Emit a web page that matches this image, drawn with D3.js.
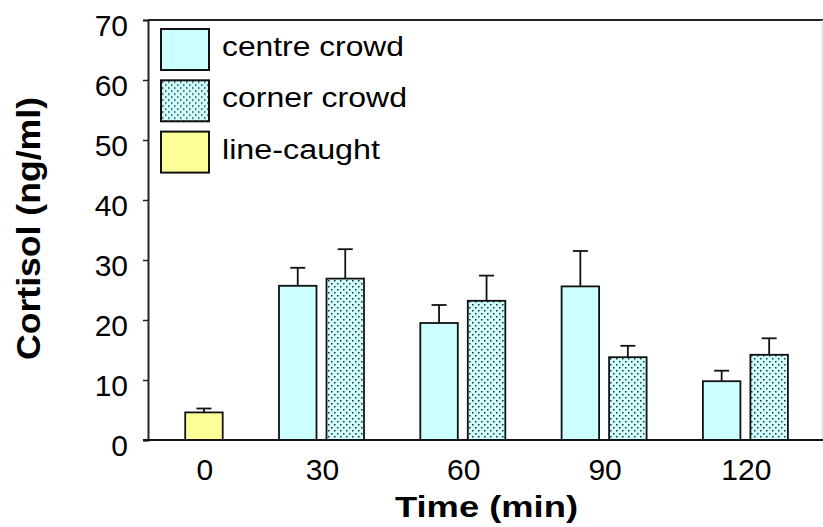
<!DOCTYPE html>
<html>
<head>
<meta charset="utf-8">
<script src="https://cdn.jsdelivr.net/npm/d3@7/dist/d3.min.js"></script>
<style>
  body { margin: 0; background: #fff; }
  svg { display: block; font-family: "Liberation Sans", Arial, sans-serif; }
</style>
</head>
<body>
<div id="chart"></div>
<script>
// values (ng/ml), null = no bar in that group
const times = ["0", "30", "60", "90", "120"];
const seriesNames = ["centre crowd", "corner crowd", "line-caught"];
const centreMean = [null, 25.7, 19.5, 25.6, 9.8];
const centreErr = [null, 3.0, 3.0, 5.9, 1.75];
const cornerMean = [null, 26.9, 23.2, 13.8, 14.2];
const cornerErr = [null, 4.9, 4.2, 1.9, 2.75];
const lineMean = [4.6, null, null, null, null];
const lineErr = [0.65, null, null, null, null];
const yTicks = [0, 10, 20, 30, 40, 50, 60, 70];

const W = 823, H = 527;
const plot = { left: 148, top: 20, right: 823, bottom: 440 };

const svg = d3.select('#chart').append('svg')
  .attr('width', W)
  .attr('height', H);

// dotted fill for the corner crowd bars
const defs = svg.append('defs');
const pat = defs.append('pattern')
  .attr('id', 'dots')
  .attr('patternUnits', 'userSpaceOnUse')
  .attr('width', 6)
  .attr('height', 6);
pat.append('rect').attr('width', 6).attr('height', 6).attr('fill', '#ccffff');
pat.append('rect').attr('x', 1).attr('y', 1).attr('width', 1.5).attr('height', 1.5).attr('fill', '#2a2a2a');
pat.append('rect').attr('x', 4).attr('y', 4).attr('width', 1.5).attr('height', 1.5).attr('fill', '#2a2a2a');

const fills = {
  'centre crowd': '#ccffff',
  'corner crowd': 'url(#dots)',
  'line-caught': '#ffff99'
};
// line-caught bar sits in the second slot of its group
const slotOf = {
  'centre crowd': 'centre crowd',
  'corner crowd': 'corner crowd',
  'line-caught': 'corner crowd'
};

const y = d3.scaleLinear().domain([0, 70]).range([plot.bottom, plot.top]);

const step = 141.3;
const firstCenter = 180.2;
const x0 = d3.scaleBand()
  .domain(times)
  .range([firstCenter - step / 2, firstCenter - step / 2 + step * times.length])
  .padding(0);
const bw = x0.bandwidth();
const x1 = d3.scaleBand()
  .domain(['centre crowd', 'corner crowd'])
  .range([bw / 2 - 42.5, bw / 2 + 42.5])
  .paddingInner(10 / 47.5)
  .paddingOuter(0);

const bars = [];
times.forEach((t, i) => {
  [[seriesNames[0], centreMean, centreErr],
   [seriesNames[1], cornerMean, cornerErr],
   [seriesNames[2], lineMean, lineErr]].forEach(([name, m, e]) => {
    if (m[i] != null) bars.push({ time: t, series: name, value: m[i], err: e[i] });
  });
});

// frame lines
svg.append('line')
  .attr('x1', plot.left).attr('x2', plot.right)
  .attr('y1', plot.top).attr('y2', plot.top)
  .attr('stroke', '#222').attr('stroke-width', 2);
svg.append('line')
  .attr('x1', 822).attr('x2', 822)
  .attr('y1', plot.top).attr('y2', plot.bottom)
  .attr('stroke', '#d8d8d8').attr('stroke-width', 1);

// error bars (drawn under the bars)
const eb = svg.append('g')
  .attr('stroke', '#111')
  .attr('stroke-width', 1.8);
bars.forEach(d => {
  const cx = x0(d.time) + x1(slotOf[d.series]) + x1.bandwidth() / 2;
  eb.append('line')
    .attr('x1', cx).attr('x2', cx)
    .attr('y1', y(d.value)).attr('y2', y(d.value + d.err));
  eb.append('line')
    .attr('x1', cx - 7.5).attr('x2', cx + 7.5)
    .attr('y1', y(d.value + d.err)).attr('y2', y(d.value + d.err));
});

svg.append('g')
  .selectAll('rect')
  .data(bars)
  .join('rect')
  .attr('x', d => x0(d.time) + x1(slotOf[d.series]))
  .attr('y', d => y(d.value))
  .attr('width', x1.bandwidth())
  .attr('height', d => y(0) - y(d.value))
  .attr('fill', d => fills[d.series])
  .attr('stroke', '#111')
  .attr('stroke-width', 1.8);

// y axis
const yAxis = svg.append('g')
  .attr('transform', `translate(${plot.left},0)`)
  .call(d3.axisLeft(y).tickValues(yTicks).tickSize(5).tickPadding(15).tickFormat(d3.format('d')));
yAxis.select('.domain').attr('stroke', '#222').attr('stroke-width', 2);
yAxis.selectAll('.tick line').attr('stroke', '#222').attr('stroke-width', 1.5);
yAxis.selectAll('.tick text')
  .attr('fill', '#000')
  .attr('font-size', 30)
  .attr('font-family', '"Liberation Sans", Arial, sans-serif')
  .attr('dy', '0.5em');

// x axis line
svg.append('line')
  .attr('x1', plot.left - 5).attr('x2', plot.right)
  .attr('y1', y(0)).attr('y2', y(0))
  .attr('stroke', '#111').attr('stroke-width', 2.2);

// x labels, centred under the bars of each group
svg.append('g')
  .selectAll('text')
  .data(times)
  .join('text')
  .attr('x', t => d3.mean(bars.filter(b => b.time === t),
    b => x0(b.time) + x1(slotOf[b.series]) + x1.bandwidth() / 2) + 1)
  .attr('y', 480)
  .attr('text-anchor', 'middle')
  .attr('font-size', 30)
  .text(t => t);

// axis titles
svg.append('text')
  .attr('x', 486.5)
  .attr('y', 516.5)
  .attr('text-anchor', 'middle')
  .attr('font-size', 30)
  .attr('font-weight', 'bold')
  .attr('textLength', 183)
  .attr('lengthAdjust', 'spacingAndGlyphs')
  .text('Time (min)');

svg.append('text')
  .attr('transform', 'translate(40,228.5) rotate(-90)')
  .attr('text-anchor', 'middle')
  .attr('font-size', 34)
  .attr('font-weight', 'bold')
  .attr('textLength', 263)
  .attr('lengthAdjust', 'spacingAndGlyphs')
  .text('Cortisol (ng/ml)');

// legend
const legendRow = d3.scaleBand().domain(seriesNames).range([29, 29 + 51.3 * 3]);
const lg = svg.append('g');
const item = lg.selectAll('g')
  .data(seriesNames)
  .join('g')
  .attr('transform', d => `translate(161,${legendRow(d)})`);
item.append('rect')
  .attr('width', 48)
  .attr('height', 41)
  .attr('fill', d => fills[d])
  .attr('stroke', '#111')
  .attr('stroke-width', 2);
item.append('text')
  .attr('x', 61)
  .attr('y', 27)
  .attr('font-size', 27)
  .attr('textLength', d => ({ 'centre crowd': 182, 'corner crowd': 185, 'line-caught': 158 })[d])
  .attr('lengthAdjust', 'spacingAndGlyphs')
  .text(d => d);
</script>
</body>
</html>
